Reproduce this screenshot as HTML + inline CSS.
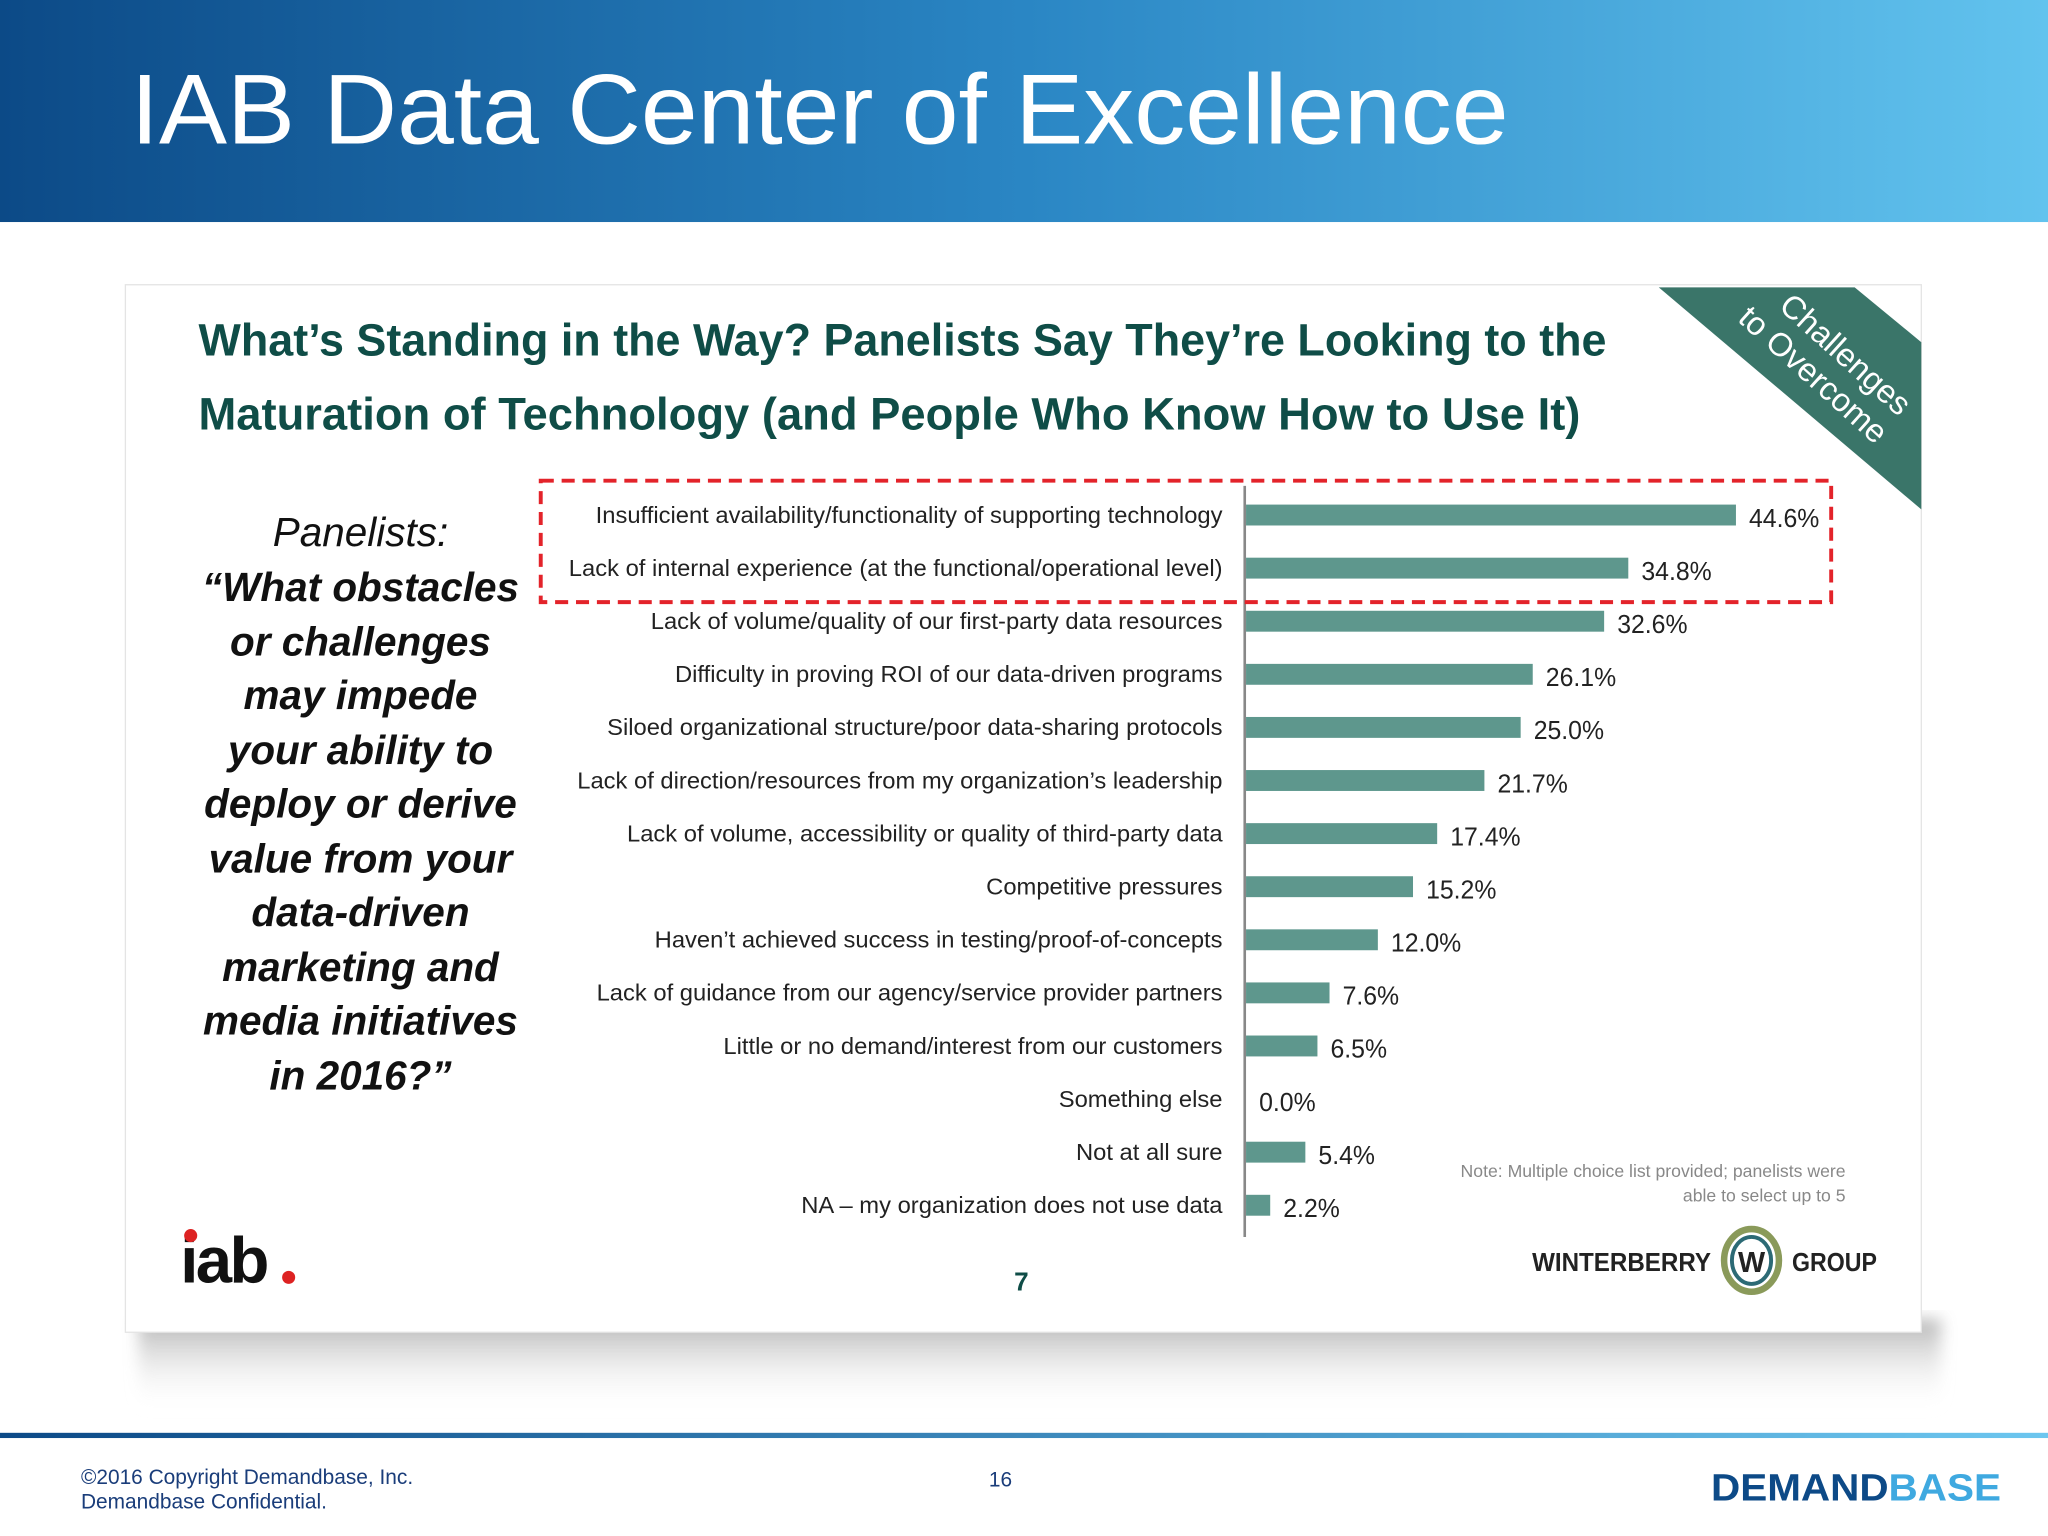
<!DOCTYPE html>
<html><head><meta charset="utf-8"><style>
html,body{margin:0;padding:0;background:#fff;}
svg{display:block;font-family:"Liberation Sans",sans-serif;}
</style></head><body>
<svg id="s" width="2048" height="1536" viewBox="0 0 1568 1176" xmlns="http://www.w3.org/2000/svg">
<defs>
<linearGradient id="hg" x1="0" x2="1" y1="0" y2="0"><stop offset="0" stop-color="#0c4a87"/><stop offset="0.5" stop-color="#2a86c4"/><stop offset="1" stop-color="#62c3ee"/></linearGradient>
<linearGradient id="fg" x1="0" x2="1"><stop offset="0" stop-color="#0c4a87"/><stop offset="1" stop-color="#6cc6ef"/></linearGradient>
<linearGradient id="sh" x1="0" x2="0" y1="0" y2="1"><stop offset="0" stop-color="#a0a0a0"/><stop offset="1" stop-color="#fff" stop-opacity="0"/></linearGradient>
<filter id="bl"><feGaussianBlur stdDeviation="6"/></filter>
</defs>
<rect x="0" y="0" width="1568" height="170" fill="url(#hg)"/>
<text x="100" y="110" font-size="76" fill="#fff" textLength="1055" lengthAdjust="spacingAndGlyphs">IAB Data Center of Excellence</text>
<rect x="106" y="1010" width="1380" height="70" fill="url(#sh)" opacity="0.8" filter="url(#bl)"/>
<rect x="96" y="218" width="1375" height="802" fill="#fff" stroke="#e4e4e4"/>
<polygon points="1270,220 1420,220 1471,262 1471,390" fill="#3a7569"/>
<g transform="translate(1398,288) rotate(42)">
<text x="0" y="-14" text-anchor="middle" font-size="25" fill="#fff">Challenges</text>
<text x="-8" y="14" text-anchor="middle" font-size="25" fill="#fff">to Overcome</text>
</g>
<text x="152" y="272" font-size="35" font-weight="bold" fill="#0f4d47" textLength="1078" lengthAdjust="spacingAndGlyphs">What’s Standing in the Way? Panelists Say They’re Looking to the</text>
<text x="152" y="329" font-size="35" font-weight="bold" fill="#0f4d47" textLength="1058" lengthAdjust="spacingAndGlyphs">Maturation of Technology (and People Who Know How to Use It)</text>
<g font-size="31" text-anchor="middle" fill="#111" font-style="italic">
<text x="276" y="418">Panelists:</text>
<text x="276" y="460" font-weight="bold">“What obstacles</text>
<text x="276" y="502" font-weight="bold">or challenges</text>
<text x="276" y="543" font-weight="bold">may impede</text>
<text x="276" y="585" font-weight="bold">your ability to</text>
<text x="276" y="626" font-weight="bold">deploy or derive</text>
<text x="276" y="668" font-weight="bold">value from your</text>
<text x="276" y="709" font-weight="bold">data-driven</text>
<text x="276" y="751" font-weight="bold">marketing and</text>
<text x="276" y="792" font-weight="bold">media initiatives</text>
<text x="276" y="834" font-weight="bold">in 2016?”</text>
</g>
<g id="chart"></g>
<rect x="414" y="368" width="988" height="93" fill="none" stroke="#e3232a" stroke-width="3" stroke-dasharray="10,6"/>
<g font-size="13.5" fill="#888" text-anchor="end">
<text x="1413" y="901">Note: Multiple choice list provided; panelists were</text>
<text x="1413" y="920">able to select up to 5</text>
</g>
<g>
<text x="138" y="982" font-size="50" font-weight="bold" fill="#111" letter-spacing="-2">iab</text>
<circle cx="146" cy="946" r="5" fill="#d22"/>
<circle cx="221" cy="978" r="5" fill="#d22"/>
</g>
<text x="782" y="988" font-size="20" font-weight="bold" fill="#0f4d47" text-anchor="middle">7</text>
<g>
<text x="1173" y="973" font-size="20" font-weight="bold" fill="#222" textLength="137" lengthAdjust="spacingAndGlyphs">WINTERBERRY</text>
<ellipse cx="1341" cy="965" rx="21" ry="24" fill="#fff" stroke="#8a9a5a" stroke-width="5"/>
<ellipse cx="1341" cy="965" rx="15" ry="18" fill="#fff" stroke="#2c6a75" stroke-width="3"/>
<text x="1341" y="974" font-size="22" font-weight="bold" fill="#222" text-anchor="middle">W</text>
<text x="1372" y="973" font-size="20" font-weight="bold" fill="#222" textLength="65" lengthAdjust="spacingAndGlyphs">GROUP</text>
</g>
<rect x="0" y="1097" width="1568" height="4" fill="url(#fg)"/>
<g font-size="16" fill="#1a3d7a">
<text x="62" y="1136">©2016 Copyright Demandbase, Inc.</text>
<text x="62" y="1155">Demandbase Confidential.</text>
</g>
<text x="766" y="1138" font-size="16" fill="#1a3d7a" text-anchor="middle">16</text>
<g font-size="29" font-weight="bold">
<text x="1310" y="1149" fill="#0d4a87" textLength="222" lengthAdjust="spacingAndGlyphs">DEMAND<tspan fill="#3fa9e0">BASE</tspan></text>
</g>
</svg>
<script>
const categories=["Insufficient availability/functionality of supporting technology","Lack of internal experience (at the functional/operational level)","Lack of volume/quality of our first-party data resources","Difficulty in proving ROI of our data-driven programs","Siloed organizational structure/poor data-sharing protocols","Lack of direction/resources from my organization’s leadership","Lack of volume, accessibility or quality of third-party data","Competitive pressures","Haven’t achieved success in testing/proof-of-concepts","Lack of guidance from our agency/service provider partners","Little or no demand/interest from our customers","Something else","Not at all sure","NA – my organization does not use data"];
const values=[44.6,34.8,32.6,26.1,25.0,21.7,17.4,15.2,12.0,7.6,6.5,0.0,5.4,2.2];
const valueLabels=["44.6%","34.8%","32.6%","26.1%","25.0%","21.7%","17.4%","15.2%","12.0%","7.6%","6.5%","0.0%","5.4%","2.2%"];
const NS="http://www.w3.org/2000/svg";
const g=document.getElementById('chart');
const x0=954, pxPer=8.41, yTop=374, step=40.65, barH=16;
const xScale=v=>v*pxPer;
const yScale=i=>yTop+step*(i+0.5);
function mk(t,a){const e=document.createElementNS(NS,t);for(const k in a)e.setAttribute(k,a[k]);g.appendChild(e);return e;}
const ax=mk('line',{x1:953,x2:953,y1:yTop-2,y2:yTop+step*categories.length+4,stroke:'#888','stroke-width':2});


categories.forEach((c,i)=>{
  const y=yScale(i);
  const b=mk('rect',{x:x0,y:y-barH/2,width:xScale(values[i]),height:barH,fill:'#5e978d'});
  
  
  const t=mk('text',{x:936,y:y+6,'font-size':17.5,fill:'#222','text-anchor':'end'});
  t.textContent=c;
  
  
  const L=t.getComputedTextLength();t.setAttribute('textLength',L*1.04);t.setAttribute('lengthAdjust','spacingAndGlyphs');
  const v=mk('text',{x:x0+xScale(values[i])+10,y:y+9,'font-size':20,fill:'#222'});
  v.textContent=valueLabels[i];
  
  
  const VL=v.getComputedTextLength();v.setAttribute('textLength',VL*0.95);v.setAttribute('lengthAdjust','spacingAndGlyphs');
});
</script>
</body></html>
